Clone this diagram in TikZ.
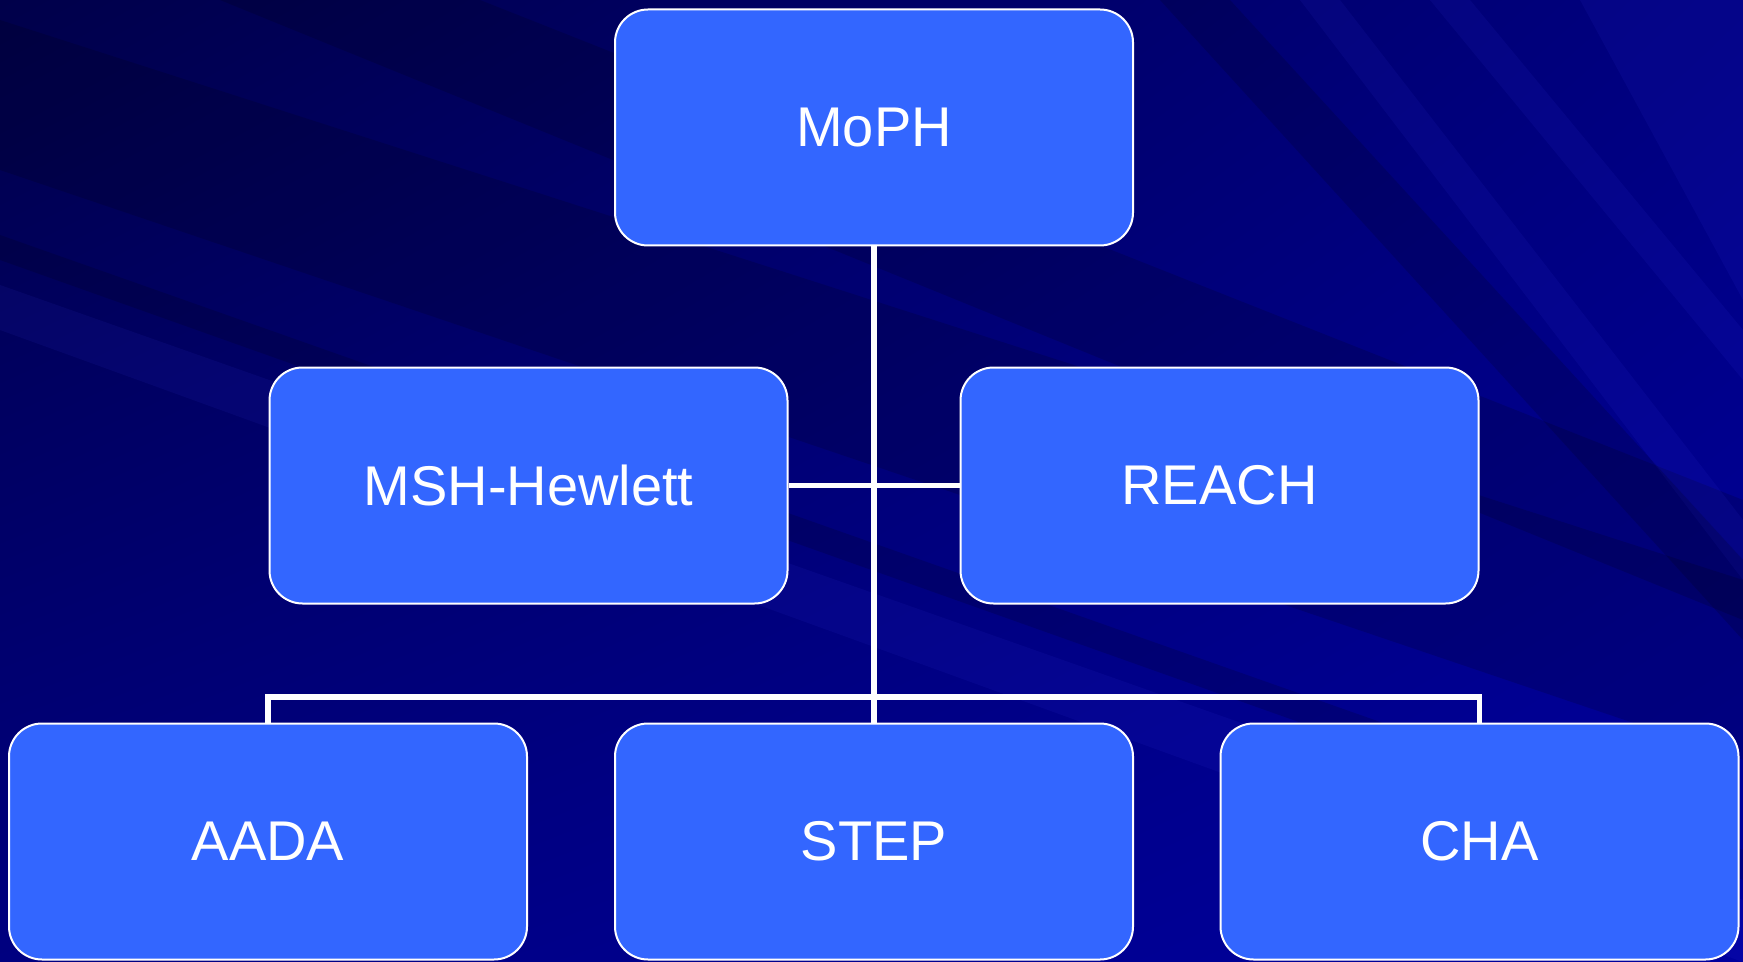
\documentclass[tikz,border=0pt]{standalone}
\usepackage{fontspec}
\setmainfont{Liberation Sans}
\usepackage{tikz}
\usetikzlibrary{shapes,shadings,positioning}

\definecolor{bgdark}{HTML}{00004A}
\definecolor{bgmid}{HTML}{000080}
\definecolor{bglight}{HTML}{00009E}
\definecolor{boxblue}{HTML}{3366FF}

\begin{document}
\begin{tikzpicture}[x=0.5pt,y=-0.5pt,semithick]
\tikzstyle{orgbox}=[draw=white,line width=1pt,fill=boxblue,text=white,rounded corners=16.5pt,minimum width=259pt,minimum height=118pt,font=\fontsize{28}{32}\selectfont]
\tikzstyle{link}=[draw=white,line width=2.75pt]
\tikzstyle{streak}=[fill=black,fill opacity=0.15]
\tikzstyle{glow}=[fill=blue!70!white,fill opacity=0.08]
\useasboundingbox (0,0) rectangle (1743,962);
% background
\shade[upper left=bgdark,upper right=bgmid,lower left=bgmid,lower right=bglight] (0,0) rectangle (1743,962);
\fill[streak] (0,20) -- (1743,580) -- (1743,760) -- (0,170) -- cycle;
\fill[streak] (220,0) -- (480,0) -- (1743,500) -- (1743,620) -- cycle;
\fill[streak] (0,235) -- (1743,850) -- (1743,880) -- (0,260) -- cycle;
\fill[glow] (0,285) -- (1743,900) -- (1743,962) -- (0,330) -- cycle;
\fill[glow] (1300,0) -- (1340,0) -- (1743,520) -- (1743,580) -- cycle;
\fill[glow] (1430,0) -- (1470,0) -- (1743,330) -- (1743,380) -- cycle;
\fill[glow] (1580,0) -- (1743,0) -- (1743,300) -- cycle;
\fill[streak] (1160,0) -- (1230,0) -- (1743,560) -- (1743,640) -- cycle;

% boxes
\node[orgbox] (moph) at (874,127.5) {MoPH};
\node[orgbox] (msh) at (528.5,485.5) {MSH-Hewlett};
\node[orgbox] (reach) at (1219.5,485.5) {REACH};
\node[orgbox] (aada) at (268,841.5) {AADA};
\node[orgbox] (step) at (874,841.5) {STEP};
\node[orgbox] (cha) at (1479.5,841.5) {CHA};
\coordinate (bus) at (874,697);

% connectors
\draw[link] (moph.south) -- (step.north);
\draw[link] (msh.east) -- (reach.west);
\draw[link] (aada.north) |- (bus) -| (cha.north);
\end{tikzpicture}
\end{document}
